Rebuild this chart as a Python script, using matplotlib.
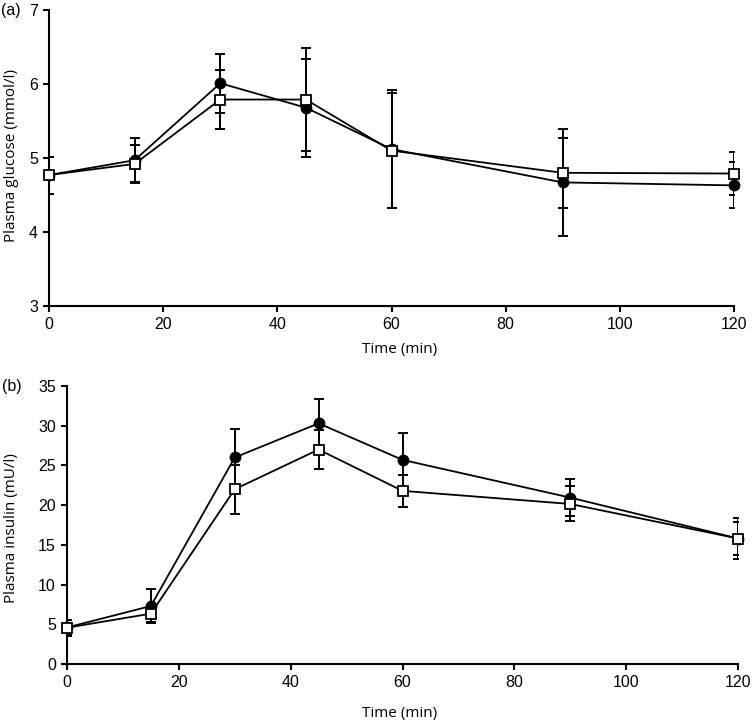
import matplotlib
matplotlib.use("Agg")
import matplotlib.pyplot as plt

time_min = [0, 15, 30, 45, 60, 90, 120]

glucose_filled = [4.77, 4.97, 6.01, 5.68, 5.12, 4.67, 4.63]
glucose_filled_err = [0.25, 0.30, 0.40, 0.66, 0.80, 0.72, 0.31]
glucose_open = [4.77, 4.92, 5.79, 5.79, 5.10, 4.80, 4.79]
glucose_open_err = [0.25, 0.26, 0.40, 0.69, 0.78, 0.47, 0.29]

insulin_filled = [4.6, 7.3, 26.0, 30.3, 25.7, 20.95, 15.8]
insulin_filled_err = [1.0, 2.2, 3.6, 3.1, 3.4, 2.35, 2.6]
insulin_open = [4.57, 6.34, 22.0, 27.0, 21.8, 20.15, 15.8]
insulin_open_err = [1.0, 1.1, 3.1, 2.4, 2.0, 2.2, 2.05]

x_ticks = [0, 20, 40, 60, 80, 100, 120]
glucose_ticks = [3, 4, 5, 6, 7]
insulin_ticks = [0, 5, 10, 15, 20, 25, 30, 35]

W, H = 753, 724
fig = plt.figure(figsize=(W / 100, H / 100), dpi=100)

def px_axes(l, r, t, b):
    return fig.add_axes([l / W, 1 - b / H, (r - l) / W, (b - t) / H])

ax1 = px_axes(49, 734, 10, 306)
ax2 = px_axes(67, 738, 386, 664)

tick_font = dict(family=["Liberation Sans", "DejaVu Sans"], size=11.5)
label_font = dict(family=["Open Sans", "DejaVu Sans"], size=11)

def draw(ax, yf, ef, yo, eo, ylim, yticks):
    for y, e in [(yf, ef), (yo, eo)]:
        ax.errorbar(time_min, y, yerr=e, fmt="none", ecolor="black",
                    elinewidth=1.4, capsize=3.5, capthick=1.4, zorder=2)
    ax.plot(time_min, yf, color="black", lw=1.3, marker="o", ms=7.5,
            mfc="black", mec="black", zorder=3, clip_on=False)
    ax.plot(time_min, yo, color="black", lw=1.3, marker="s", ms=7.5,
            mfc="white", mec="black", mew=1.3, zorder=4, clip_on=False)
    ax.set_xlim(0, 120)
    ax.set_ylim(*ylim)
    ax.set_xticks(x_ticks)
    ax.set_yticks(yticks)
    for s in ["top", "right"]:
        ax.spines[s].set_visible(False)
    for s in ["left", "bottom"]:
        ax.spines[s].set_linewidth(1.5)
    ax.tick_params(direction="out", length=4, width=1.5, pad=4)
    for lab in ax.get_xticklabels() + ax.get_yticklabels():
        lab.set_fontfamily(tick_font["family"])
        lab.set_fontsize(tick_font["size"])

draw(ax1, glucose_filled, glucose_filled_err, glucose_open, glucose_open_err,
     (3, 7), glucose_ticks)
draw(ax2, insulin_filled, insulin_filled_err, insulin_open, insulin_open_err,
     (0, 35), insulin_ticks)

def ftext(x, y, s, **kw):
    fig.text(x / W, 1 - y / H, s, **kw)

ftext(400, 349, "Time (min)", ha="center", va="center", **label_font)
ftext(400, 713, "Time (min)", ha="center", va="center", **label_font)
ftext(12, 156, "Plasma glucose (mmol/l)", ha="center", va="center",
      rotation=90, **label_font)
ftext(12, 528, "Plasma insulin (mU/l)", ha="center", va="center",
      rotation=90, **label_font)
ftext(1, 11, "(a)", ha="left", va="center", **tick_font)
ftext(2, 387, "(b)", ha="left", va="center", **tick_font)

fig.savefig("out.png", dpi=100)
